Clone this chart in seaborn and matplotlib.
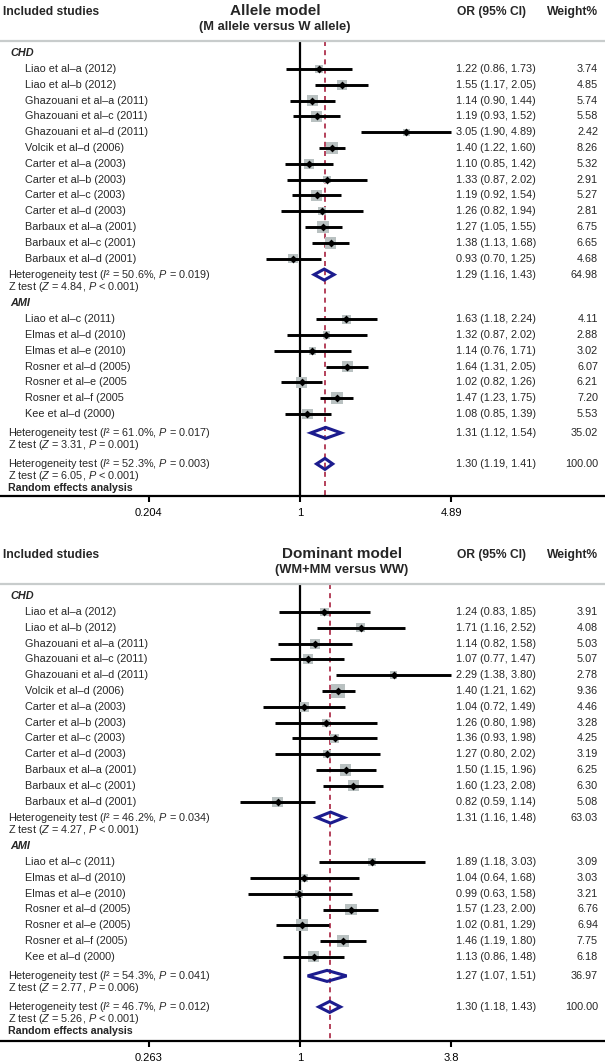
import numpy as np
import pandas as pd
import matplotlib
matplotlib.use("Agg")
import matplotlib.pyplot as plt
import seaborn as sns

sns.set_theme(style="white")
plt.rcParams["font.family"] = ["Liberation Sans", "DejaVu Sans"]
plt.rcParams["mathtext.fontset"] = "custom"
plt.rcParams["mathtext.rm"] = "Liberation Sans"
plt.rcParams["mathtext.it"] = "Liberation Sans:italic"
plt.rcParams["mathtext.bf"] = "Liberation Sans:bold"

# ---- data ----
chd_studies = [
    "Liao et al\u2013a (2012)", "Liao et al\u2013b (2012)",
    "Ghazouani et al\u2013a (2011)", "Ghazouani et al\u2013c (2011)",
    "Ghazouani et al\u2013d (2011)", "Volcik et al\u2013d (2006)",
    "Carter et al\u2013a (2003)", "Carter et al\u2013b (2003)",
    "Carter et al\u2013c (2003)", "Carter et al\u2013d (2003)",
    "Barbaux et al\u2013a (2001)", "Barbaux et al\u2013c (2001)",
    "Barbaux et al\u2013d (2001)",
]
ami_studies_allele = [
    "Liao et al\u2013c (2011)", "Elmas et al\u2013d (2010)",
    "Elmas et al\u2013e (2010)", "Rosner et al\u2013d (2005)",
    "Rosner et al\u2013e (2005", "Rosner et al\u2013f (2005",
    "Kee et al\u2013d (2000)",
]
ami_studies_dominant = [
    "Liao et al\u2013c (2011)", "Elmas et al\u2013d (2010)",
    "Elmas et al\u2013e (2010)", "Rosner et al\u2013d (2005)",
    "Rosner et al\u2013e (2005)", "Rosner et al\u2013f (2005)",
    "Kee et al\u2013d (2000)",
]

# Allele model
allele_chd_or = [1.22, 1.55, 1.14, 1.19, 3.05, 1.40, 1.10, 1.33, 1.19, 1.26, 1.27, 1.38, 0.93]
allele_chd_lo = [0.86, 1.17, 0.90, 0.93, 1.90, 1.22, 0.85, 0.87, 0.92, 0.82, 1.05, 1.13, 0.70]
allele_chd_hi = [1.73, 2.05, 1.44, 1.52, 4.89, 1.60, 1.42, 2.02, 1.54, 1.94, 1.55, 1.68, 1.25]
allele_chd_w = [3.74, 4.85, 5.74, 5.58, 2.42, 8.26, 5.32, 2.91, 5.27, 2.81, 6.75, 6.65, 4.68]
allele_ami_or = [1.63, 1.32, 1.14, 1.64, 1.02, 1.47, 1.08]
allele_ami_lo = [1.18, 0.87, 0.76, 1.31, 0.82, 1.23, 0.85]
allele_ami_hi = [2.24, 2.02, 1.71, 2.05, 1.26, 1.75, 1.39]
allele_ami_w = [4.11, 2.88, 3.02, 6.07, 6.21, 7.20, 5.53]
# pooled: CHD, AMI, overall
allele_pool_or = [1.29, 1.31, 1.30]
allele_pool_lo = [1.16, 1.12, 1.19]
allele_pool_hi = [1.43, 1.54, 1.41]
allele_pool_w = [64.98, 35.02, 100.00]
allele_i2 = ["50.6", "61.0", "52.3"]
allele_het_p = ["0.019", "0.017", "0.003"]
allele_z = ["4.84", "3.31", "6.05"]
allele_z_p = ["< 0.001", "= 0.001", "< 0.001"]
allele_ticks = [0.204, 1, 4.89]
allele_tick_labels = ["0.204", "1", "4.89"]

# Dominant model
dom_chd_or = [1.24, 1.71, 1.14, 1.07, 2.29, 1.40, 1.04, 1.26, 1.36, 1.27, 1.50, 1.60, 0.82]
dom_chd_lo = [0.83, 1.16, 0.82, 0.77, 1.38, 1.21, 0.72, 0.80, 0.93, 0.80, 1.15, 1.23, 0.59]
dom_chd_hi = [1.85, 2.52, 1.58, 1.47, 3.80, 1.62, 1.49, 1.98, 1.98, 2.02, 1.96, 2.08, 1.14]
dom_chd_w = [3.91, 4.08, 5.03, 5.07, 2.78, 9.36, 4.46, 3.28, 4.25, 3.19, 6.25, 6.30, 5.08]
dom_ami_or = [1.89, 1.04, 0.99, 1.57, 1.02, 1.46, 1.13]
dom_ami_lo = [1.18, 0.64, 0.63, 1.23, 0.81, 1.19, 0.86]
dom_ami_hi = [3.03, 1.68, 1.58, 2.00, 1.29, 1.80, 1.48]
dom_ami_w = [3.09, 3.03, 3.21, 6.76, 6.94, 7.75, 6.18]
dom_pool_or = [1.31, 1.27, 1.30]
dom_pool_lo = [1.16, 1.07, 1.18]
dom_pool_hi = [1.48, 1.51, 1.43]
dom_pool_w = [63.03, 36.97, 100.00]
dom_i2 = ["46.2", "54.3", "46.7"]
dom_het_p = ["0.034", "0.041", "0.012"]
dom_z = ["4.27", "2.77", "5.26"]
dom_z_p = ["< 0.001", "= 0.006", "< 0.001"]
dom_ticks = [0.263, 1, 3.8]
dom_tick_labels = ["0.263", "1", "3.8"]

# ---- layout ----
W, H = 605, 1063
fig = plt.figure(figsize=(W / 100, H / 100), dpi=100)

SQUARE = "#b9c1c1"
NAVY = "#1c1c8e"
RED = "#a8213f"
STEP = 15.8


def rows_layout(n_chd, n_ami):
    pos = {}
    pos["chd_label"] = 12
    pos["chd"] = 28 + STEP * np.arange(n_chd)
    pos["chd_sum"] = pos["chd"][-1] + 16
    pos["chd_z"] = pos["chd_sum"] + 12
    pos["ami_label"] = pos["chd_z"] + 16.5
    pos["ami"] = pos["ami_label"] + 16 + STEP * np.arange(n_ami)
    pos["ami_sum"] = pos["ami"][-1] + 19
    pos["ami_z"] = pos["ami_sum"] + 12
    pos["all_sum"] = pos["ami_z"] + 19
    pos["all_z"] = pos["all_sum"] + 12
    pos["random"] = pos["all_z"] + 12.5
    return pos


def draw_panel(top_px, bottom_px, title, subtitle, title_x,
               chd, ami_names, ami, pool, i2, het_p, z, z_p, ticks, tick_labels):
    height = bottom_px - top_px
    ax = fig.add_axes([0, (H - bottom_px) / H, 1, height / H])
    ax.set_xscale("log")
    tmax = ticks[-1]
    ax.set_xlim(np.exp(np.log(tmax) * -300 / 151), np.exp(np.log(tmax) * 305 / 151))
    ax.set_ylim(height, 0)
    tr = ax.get_yaxis_transform()
    pos = rows_layout(len(chd[0]), len(ami_names))

    # study level data
    df = pd.DataFrame({
        "name": chd_studies + ami_names,
        "or": chd[0] + ami[0],
        "lo": chd[1] + ami[1],
        "hi": chd[2] + ami[2],
        "w": chd[3] + ami[3],
        "y": np.concatenate([pos["chd"], pos["ami"]]),
    })

    # reference lines
    ax.vlines(1, 0, height, color="black", lw=1.6, zorder=1)
    ax.vlines(pool[0][2], 0, height, color=RED, lw=1.2,
              linestyles=(0, (3, 2.5)), zorder=1)
    ax.axhline(0, color="#c8cccc", lw=1.6, clip_on=False)

    sns.scatterplot(data=df, x="or", y="y", s=df["w"] * 10.5, marker="s",
                    color=SQUARE, linewidth=0, ax=ax, zorder=2, legend=False)
    ax.hlines(df["y"], df["lo"], df["hi"], color="black", lw=2.1, zorder=3)
    sns.scatterplot(data=df, x="or", y="y", s=16, marker="D", color="black",
                    linewidth=0, ax=ax, zorder=4, legend=False)

    for _, r in df.iterrows():
        ax.text(25 / W, r["y"], r["name"], transform=tr, fontsize=7.8, va="center")
        ax.text(456 / W, r["y"], f"{r['or']:.2f} ({r['lo']:.2f}, {r['hi']:.2f})",
                transform=tr, fontsize=7.8, va="center")
        ax.text(598 / W, r["y"], f"{r['w']:.2f}", transform=tr, fontsize=7.8,
                va="center", ha="right")

    # pooled diamonds
    sum_rows = [pos["chd_sum"], pos["ami_sum"], pos["all_sum"]]
    z_rows = [pos["chd_z"], pos["ami_z"], pos["all_z"]]
    for k in range(3):
        o, lo, hi, w = pool[0][k], pool[1][k], pool[2][k], pool[3][k]
        y = sum_rows[k]
        ax.fill([lo, o, hi, o, lo], [y, y - 5.5, y, y + 5.5, y], fill=False,
                edgecolor=NAVY, lw=2.2, zorder=5, joinstyle="miter")
        ax.text(456 / W, y, f"{o:.2f} ({lo:.2f}, {hi:.2f})", transform=tr,
                fontsize=7.8, va="center")
        ax.text(598 / W, y, f"{w:.2f}", transform=tr, fontsize=7.8,
                va="center", ha="right")
        ax.text(8 / W, y, f"Heterogeneity test ($I$\u00b2 = {i2[k]}%, $P$ = {het_p[k]})",
                transform=tr, fontsize=7.8, va="center")
        ax.text(8 / W, z_rows[k], f"Z test ($Z$ = {z[k]}, $P$ {z_p[k]})",
                transform=tr, fontsize=7.8, va="center")

    ax.text(10 / W, pos["chd_label"], "CHD", transform=tr, fontsize=7.8,
            fontweight="bold", style="italic", va="center")
    ax.text(10 / W, pos["ami_label"], "AMI", transform=tr, fontsize=7.8,
            fontweight="bold", style="italic", va="center")
    ax.text(8 / W, pos["random"], "Random effects analysis", transform=tr,
            fontsize=7.7, fontweight="bold", va="center")

    # headers
    ax.text(3 / W, -29, "Included studies", transform=tr, fontsize=8.7,
            fontweight="bold", va="center")
    ax.text(457 / W, -29, "OR (95% CI)", transform=tr, fontsize=8.7,
            fontweight="bold", va="center")
    ax.text(598 / W, -29, "Weight%", transform=tr, fontsize=8.7,
            fontweight="bold", va="center", ha="right")
    ax.text(title_x / W, -30, title, transform=tr, fontsize=11,
            fontweight="bold", va="center", ha="center")
    ax.text(title_x / W, -14, subtitle, transform=tr, fontsize=9.3,
            fontweight="bold", va="center", ha="center")

    # axis
    sns.despine(ax=ax, left=True, top=True, right=True)
    ax.spines["bottom"].set_color("black")
    ax.spines["bottom"].set_linewidth(1.6)
    ax.set_yticks([])
    ax.set_xticks(ticks)
    ax.set_xticklabels(tick_labels)
    ax.minorticks_off()
    ax.tick_params(axis="x", bottom=True, direction="out", length=4.5, width=1.5,
                   pad=4, labelsize=8, colors="black")
    ax.set_xlabel("")
    ax.set_ylabel("")
    ax.grid(False)
    return ax


draw_panel(41, 496, "Allele model", "(M allele versus W allele)", 275,
           (allele_chd_or, allele_chd_lo, allele_chd_hi, allele_chd_w),
           ami_studies_allele,
           (allele_ami_or, allele_ami_lo, allele_ami_hi, allele_ami_w),
           (allele_pool_or, allele_pool_lo, allele_pool_hi, allele_pool_w),
           allele_i2, allele_het_p, allele_z, allele_z_p,
           allele_ticks, allele_tick_labels)

draw_panel(584, 1041, "Dominant model", "(WM+MM versus WW)", 342,
           (dom_chd_or, dom_chd_lo, dom_chd_hi, dom_chd_w),
           ami_studies_dominant,
           (dom_ami_or, dom_ami_lo, dom_ami_hi, dom_ami_w),
           (dom_pool_or, dom_pool_lo, dom_pool_hi, dom_pool_w),
           dom_i2, dom_het_p, dom_z, dom_z_p,
           dom_ticks, dom_tick_labels)

fig.savefig("out.png", dpi=100, facecolor="white")
